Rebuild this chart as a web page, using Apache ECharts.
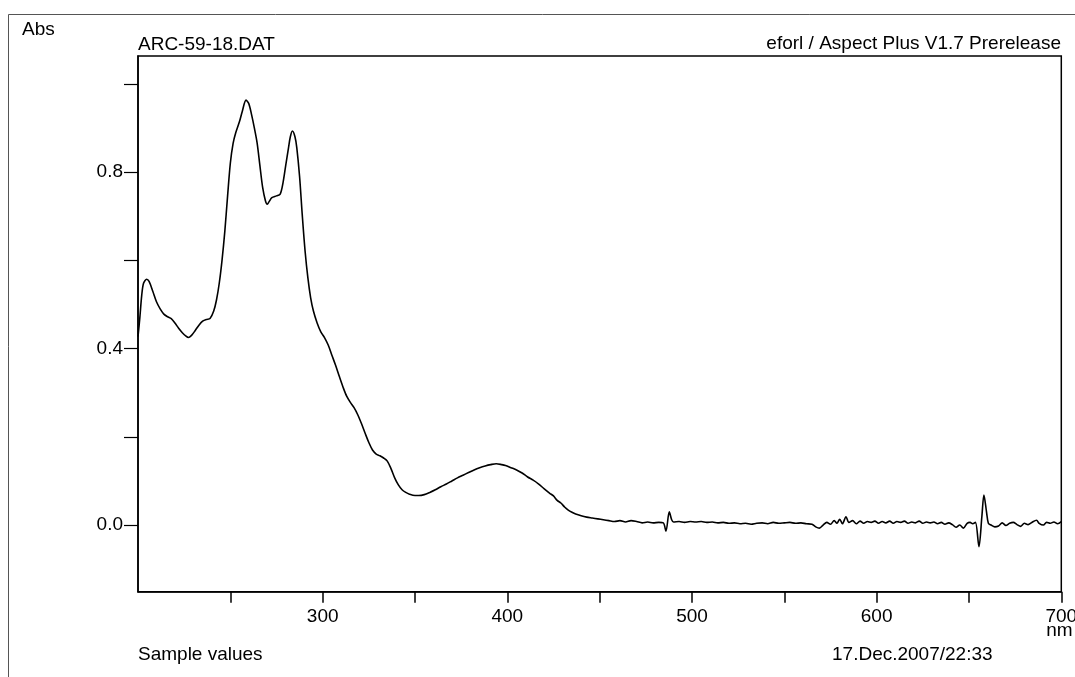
<!DOCTYPE html>
<html>
<head>
<meta charset="utf-8">
<script src="https://cdn.jsdelivr.net/npm/echarts@6/dist/echarts.min.js"></script>
<style>
html,body{margin:0;padding:0;background:#fff;}
#chart{width:1075px;height:677px;}
</style>
</head>
<body>
<div id="chart"></div>
<script>
// Wavelength (nm) and absorbance
const wavelengths = [
200,201,202,203,204.7,206,208,210,212,214,216,218,220,222,224,226,227.3,229,231,233,235,237,239,241,242.5,244,245.5,247,248.5,250,251.5,253,255,256.5,258.5,260,261.5,263,264.5,266,267.5,269,270,271,272.5,275,277,278.5,280,281.5,282.5,283.6,285,286,287.5,289,290.5,292,293.5,295,297,299,301,303,305,307,309,311,313,315,317,319,321,323,325,327,329,331,333,335,337,339,341,343,345,347,350,352,355,358,361,364,367,370,373,376,379,382,385,388,391,394,397,399,402,405,408,411,414,417,420,423,425,427,429,431,433,435,437,440,443,446,449,452,455,458,461,464,467,470,473,476,479,482,484.5,485.9,487.7,489,490,493,496,499,502,505,508,511,514,517,520,523,526,529,532,535,538,541,544,547,550,553,556,559,562,565,567,569,571,573,575,577,578.5,580,581.5,583.4,585,587,589,591,593,595,597,599,601,603,605,607,609,611,613,615,617,619,621,623,625,627,629,631,633,635,637,639,641,643,645,647,649,650.6,652,653.5,655.4,657,658.1,659.5,660.5,662,664,666,668,670,672,674,676,678,680,682,684,686.6,688,690.3,692,694,696,698,700
];
const absorbance = [
0.427,0.47,0.52,0.548,0.557,0.552,0.530,0.506,0.490,0.478,0.472,0.468,0.458,0.446,0.436,0.428,0.425,0.430,0.441,0.453,0.462,0.466,0.468,0.485,0.51,0.548,0.60,0.665,0.745,0.82,0.865,0.89,0.915,0.938,0.963,0.955,0.930,0.900,0.866,0.815,0.765,0.735,0.727,0.733,0.742,0.746,0.750,0.775,0.815,0.855,0.880,0.893,0.880,0.855,0.79,0.70,0.62,0.56,0.515,0.485,0.458,0.438,0.425,0.408,0.385,0.362,0.337,0.313,0.292,0.278,0.266,0.250,0.230,0.208,0.187,0.170,0.161,0.157,0.152,0.145,0.128,0.107,0.091,0.080,0.074,0.070,0.067,0.067,0.069,0.074,0.080,0.087,0.093,0.100,0.107,0.113,0.119,0.125,0.130,0.134,0.137,0.139,0.137,0.135,0.130,0.125,0.118,0.109,0.102,0.093,0.082,0.072,0.066,0.056,0.050,0.041,0.034,0.029,0.025,0.021,0.018,0.016,0.014,0.012,0.010,0.008,0.010,0.007,0.010,0.008,0.005,0.007,0.005,0.006,0.005,-0.014,0.030,0.012,0.007,0.008,0.006,0.008,0.007,0.008,0.006,0.007,0.005,0.006,0.004,0.005,0.003,0.004,0.002,0.004,0.005,0.003,0.006,0.004,0.005,0.006,0.004,0.005,0.003,0.002,-0.004,-0.007,0.000,0.006,0.002,0.010,0.004,0.013,0.003,0.019,0.006,0.010,0.003,0.009,0.004,0.008,0.006,0.009,0.004,0.008,0.005,0.009,0.004,0.008,0.006,0.009,0.004,0.007,0.005,0.009,0.004,0.007,0.005,0.007,0.003,0.006,0.002,0.005,0.001,-0.005,0.000,-0.007,0.004,0.006,0.003,0.006,-0.049,0.02,0.068,0.03,0.004,0.000,-0.004,-0.002,0.005,-0.001,0.004,0.006,0.001,-0.003,0.004,0.001,0.006,0.011,0.004,0.000,0.006,0.004,0.007,0.003,0.008
];
const xTicks = [250,300,350,400,450,500,550,600,650,700];
const xLabels = [300,400,500,600,700];
const yTicks = [0,0.2,0.4,0.6,0.8,1.0];
const yLabels = [0,0.4,0.8];

const FONT = "'Liberation Sans', Arial, Helvetica, sans-serif";
const FS = 19;
const chart = echarts.init(document.getElementById('chart'), null, {renderer:'canvas'});
const seriesData = wavelengths.map((w,i)=>[w, absorbance[i]]);

chart.setOption({
  backgroundColor:'#fff',
  animation:false,
  grid:{left:138,top:56,right:13.7,bottom:85.3,containLabel:false,outerBoundsMode:'none',show:true,borderColor:'#000',borderWidth:1.5,backgroundColor:'transparent'},
  xAxis:{
    type:'value',min:200,max:700,
    name:'nm',nameLocation:'end',nameGap:-15,nameMoveOverlap:false,
    nameTextStyle:{color:'#000',fontFamily:FONT,fontSize:FS,align:'left',verticalAlign:'top',padding:[30,0,0,0],lineHeight:FS},
    axisLine:{show:true,onZero:false,lineStyle:{color:'#000',width:1.5}},
    axisTick:{show:true,inside:false,length:11,customValues:xTicks,lineStyle:{color:'#000',width:1.5}},
    axisLabel:{show:true,customValues:xLabels,margin:16,color:'#000',fontFamily:FONT,fontSize:FS,formatter:v=>String(v),hideOverlap:false},
    splitLine:{show:false}
  },
  yAxis:{
    type:'value',min:-0.151,max:1.063,
    axisLine:{show:true,onZero:false,lineStyle:{color:'#000',width:1.5}},
    axisTick:{show:true,inside:false,length:14,customValues:yTicks,lineStyle:{color:'#000',width:1.2}},
    axisLabel:{show:true,customValues:yLabels,margin:15,color:'#000',fontFamily:FONT,fontSize:FS,formatter:v=>v.toFixed(1)},
    splitLine:{show:false}
  },
  series:[{
    type:'line',data:seriesData,showSymbol:false,smooth:0.3,
    lineStyle:{color:'#000',width:1.6},
    clip:true
  }],
  graphic:[
    {type:'rect',silent:true,z:-1,shape:{x:8.5,y:14.5,width:1200,height:800},style:{fill:null,stroke:'#555',lineWidth:1}},
    {type:'text',style:{text:'Abs',x:22,y:29.5,fill:'#000',fontFamily:FONT,fontSize:FS,align:'left',verticalAlign:'middle'}},
    {type:'text',style:{text:'ARC-59-18.DAT',x:138,y:45,fill:'#000',fontFamily:FONT,fontSize:FS,align:'left',verticalAlign:'middle'}},
    {type:'text',style:{text:'eforl / Aspect Plus V1.7 Prerelease',x:1061,y:44,fill:'#000',fontFamily:FONT,fontSize:FS,align:'right',verticalAlign:'middle'}},
    {type:'text',style:{text:'Sample values',x:138,y:655,fill:'#000',fontFamily:FONT,fontSize:FS,align:'left',verticalAlign:'middle'}},
    {type:'text',style:{text:'17.Dec.2007/22:33',x:832,y:655,fill:'#000',fontFamily:FONT,fontSize:FS,align:'left',verticalAlign:'middle'}}
  ]
});
</script>
</body>
</html>
